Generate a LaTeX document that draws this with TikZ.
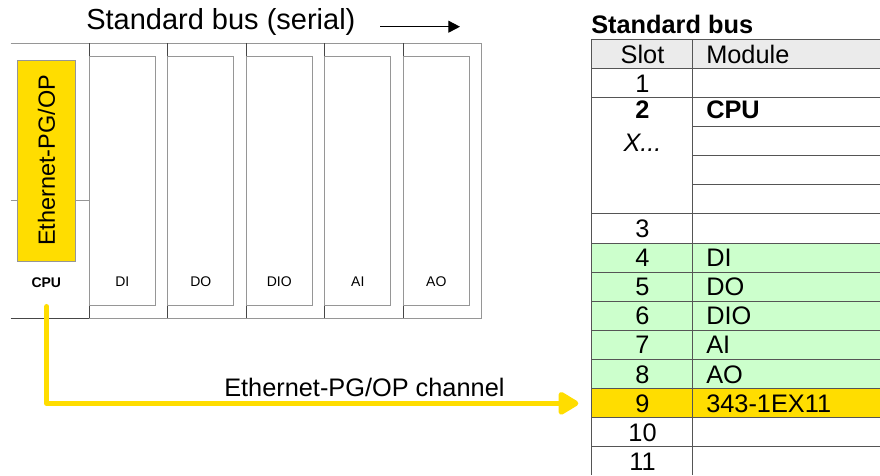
\documentclass[tikz,border=0pt]{standalone}
\usepackage{fontspec}
\setmainfont{Liberation Sans}
\usetikzlibrary{arrows.meta}

\definecolor{busyellow}{RGB}{255,221,0}
\definecolor{rowgreen}{RGB}{204,255,204}
\definecolor{headgray}{RGB}{235,235,235}
\definecolor{gridgray}{RGB}{85,85,85}
\definecolor{rackgray}{RGB}{150,150,150}
\definecolor{divgray}{RGB}{70,70,70}

\begin{document}
\begin{tikzpicture}[x=0.75pt,y=0.75pt,yscale=-1,xscale=1,
  rackline/.style={color=rackgray, line width=0.75},
  slotdiv/.style={color=divgray, line width=0.75},
  modrect/.style={color=rackgray, line width=0.75},
  slotline/.style={color=gridgray, line width=0.75},
  smalllabel/.style={anchor=base, inner sep=0pt, font=\fontsize{10.5}{12}\selectfont},
  celltext/.style={anchor=base, inner sep=0pt, font=\fontsize{19}{22}\selectfont},
  modtext/.style={celltext, anchor=base west},
  chanarrow/.style={color=busyellow, line width=4.1pt, line cap=round, line join=round,
    -{Triangle[length=17pt,width=19pt,round]}}]
  \useasboundingbox (0,0) rectangle (880,475);

  %Rack outline
  \draw [rackline] (10.7,43.3) -- (481.7,43.3) -- (481.7,318.3) -- (89.3,318.3) ;
  \draw [slotdiv] (10.7,318.3) -- (89.3,318.3) ;
  \draw [rackline] (10.7,200.3) -- (89.3,200.3) ;
  %Module slots
  \foreach \i/\lbl in {0/DI,1/DO,2/DIO,3/AI,4/AO} {
    \draw [slotdiv] ({89.3+78.5*\i},43.3) -- ({89.3+78.5*\i},318.3) ;
    \draw [modrect] ({89.3+78.5*\i},56) rectangle ({155.3+78.5*\i},305) ;
    \node [smalllabel] (mod-\lbl) at ({122.3+78.5*\i},286.5) {\lbl};
  }
  %CPU
  \node [draw=rackgray, fill=busyellow, rotate=90, inner sep=0pt,
    minimum width=150.75pt, minimum height=43.8pt,
    font=\fontsize{17.6}{20}\selectfont] (ethbox) at (46.5,160.5) {Ethernet-PG/OP};
  \node [smalllabel, font=\bfseries\fontsize{10.5}{12}\selectfont] (cpu) at (46.3,287.5) {CPU};

  % Text Node
  \node [anchor=base west, inner sep=0pt, font=\fontsize{21.75}{26}\selectfont] (bustitle) at (86,29.5) {Standard bus (serial)};
  %Bus direction
  \coordinate (busdirA) at (380,26.7) ;
  \coordinate (busdirB) at (460,26.7) ;
  \draw [line width=0.75, -{Triangle[length=8.8pt,width=9pt]}] (busdirA) -- (busdirB) ;

  %Table fills
  \fill [headgray] (591,39.3) rectangle (880,68.4) ;
  \fill [rowgreen] (591,243) rectangle (880,388.5) ;
  \node [anchor=north west, fill=busyellow, inner sep=0pt,
    minimum width=216.75pt, minimum height=21.83pt] (row9) at (591,388.5) {};
  %Table grid
  \foreach \k in {0,1,2,6,7,8,9,10,11,12,13,14}
    \draw [slotline] (591,{39.3+29.1*\k}) -- (880,{39.3+29.1*\k}) ;
  \foreach \k in {3,4,5}
    \draw [slotline] (692.7,{39.3+29.1*\k}) -- (880,{39.3+29.1*\k}) ;
  \draw [slotline] (591,39.3) -- (591,475) ;
  \draw [slotline] (692.7,39.3) -- (692.7,475) ;

  % Text Node
  \node [anchor=base west, inner sep=0pt, font=\bfseries\fontsize{19}{22}\selectfont] (tabtitle) at (591,33.3) {Standard bus};
  \node [celltext] (hslot) at (642.5,63) {Slot};
  \node [modtext] (hmodule) at (706,63) {Module};
  \node [celltext] (slot1) at (642.5,92) {1};
  \node [celltext, font=\bfseries\fontsize{19}{22}\selectfont] (slot2) at (642.5,118.5) {2};
  \node [celltext, font=\itshape\fontsize{19}{22}\selectfont] (slotx) at (642.5,151.5) {X...};
  \node [modtext, font=\bfseries\fontsize{19}{22}\selectfont] (modcpu) at (706,118.5) {CPU};
  \node [celltext] (slot3) at (642.5,237.5) {3};
  \foreach \n/\m in {4/DI,5/DO,6/DIO,7/AI,8/AO,9/343-1EX11} {
    \node [celltext] (slot\n) at (642.5,{62.95+29.1*(\n+3)}) {\n};
    \node [modtext] (mod\n) at (706,{62.95+29.1*(\n+3)}) {\m};
  }
  \node [celltext] (slot10) at (642.5,{62.95+29.1*13}) {10};
  \node [celltext] (slot11) at (642.5,{62.95+29.1*14}) {11};

  %Ethernet-PG/OP channel
  \coordinate (chstart) at (46.7,306.7) ;
  \draw [chanarrow, shorten >=9.5pt] (chstart) |- (row9.west) ;
  \node [anchor=base west, inner sep=0pt, font=\fontsize{19}{22}\selectfont] (chlabel) at (224,396) {Ethernet-PG/OP channel};

\end{tikzpicture}
\end{document}
